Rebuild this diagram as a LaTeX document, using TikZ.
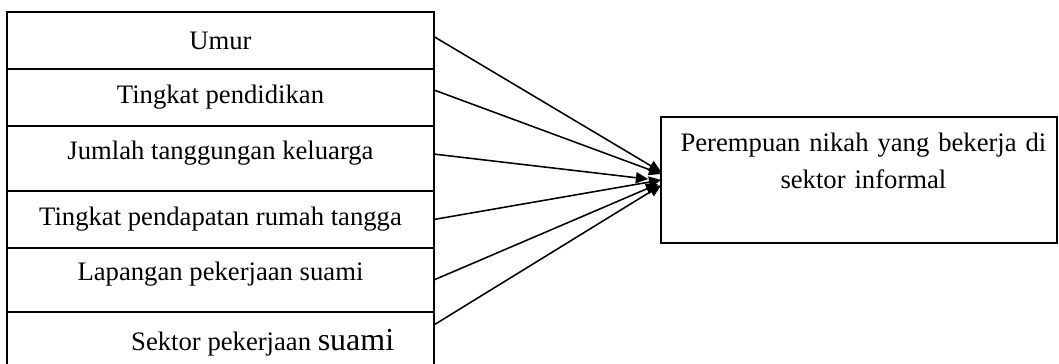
\documentclass[tikz,border=0pt]{standalone}
\usepackage{fontspec}
\setmainfont{Liberation Serif}
\usetikzlibrary{arrows.meta}

\tikzset{
	factor/.style={rectangle,draw,line width=0.9pt,minimum width=192pt,inner sep=0pt,outer sep=0pt,font=\fontsize{12pt}{14pt}\selectfont},
	goal/.style={rectangle,draw,line width=0.9pt,minimum width=178pt,minimum height=56.7pt,text width=172pt,align=center,inner sep=0pt,outer sep=0pt,text depth=34pt,font=\fontsize{12pt}{16.6pt}\selectfont}
}

\begin{document}
\begin{tikzpicture}[x=0.45pt,y=-0.45pt,>={Triangle[length=5.5pt,width=5pt]}]
			\useasboundingbox (0,0) rectangle (1059,363);
			\draw (220.5,40.5) node [factor,minimum height=25.7pt] (umur) {Umur};
			\draw (220.5,97.5) node [factor,minimum height=25.7pt] (pendidikan) {Tingkat pendidikan};
			\draw (220.5,158.5) node [factor,minimum height=29.2pt,text depth=7pt] (tanggungan) {Jumlah tanggungan keluarga};
			\draw (220.5,219.5) node [factor,minimum height=25.7pt] (pendapatan) {Tingkat pendapatan rumah tangga};
			\draw (220.5,280) node [factor,minimum height=28.8pt,text depth=8pt] (lapangan) {Lapangan pekerjaan suami};
			\draw (220.5,343) node [factor,minimum height=27.9pt] (sektor) {\hspace*{38pt}Sektor pekerjaan {\fontsize{14.4pt}{17pt}\selectfont suami}};
			\draw (859,180) node [goal] (perempuan) {\hspace*{4pt}Perempuan nikah yang bekerja di\\ \hspace*{4pt}sektor informal};
			\path[->,line width=0.7pt]
				([yshift=1.8pt]umur.east) edge ([yshift=3.6pt]perempuan.west)
				([yshift=3.4pt]pendidikan.east) edge ([yshift=2.7pt]perempuan.west)
				([yshift=2pt]tanggungan.east) edge ([xshift=-5.9pt,yshift=0.4pt]perempuan.west)
				(pendapatan.east) edge (perempuan.west)
				(lapangan.east) edge ([xshift=-1.4pt,yshift=-1.8pt]perempuan.west)
				([yshift=8.1pt]sektor.east) edge ([yshift=-2.3pt]perempuan.west);
		\end{tikzpicture}
\end{document}
